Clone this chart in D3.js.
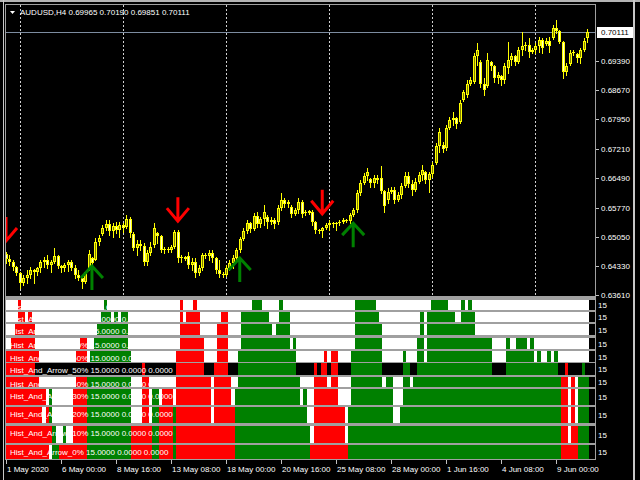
<!DOCTYPE html>
<html><head><meta charset="utf-8">
<script src="https://cdn.jsdelivr.net/npm/d3@7"></script>
<style>
html,body{margin:0;padding:0;background:#000;}
svg{display:block;}
text{font-family:"Liberation Sans",Arial,sans-serif;font-size:8px;}
</style>
</head><body>
<svg id="c" width="640" height="480"></svg>
<script>
// ---------------- DATA ----------------
const symbolTitle = "AUDUSD,H4  0.69965 0.70190 0.69851 0.70111";
const openP = [
.6462,.6450,.6443,.6430,.6415,.6391,.6403,.6410,.6423,.6418,
.6428,.6443,.6447,.6435,.6443,.6457,.6433,.6428,.6435,.6443,
.6428,.6410,.6403,.6393,.6423,.6452,.6447,.6492,.6512,.6527,
.6536,.6519,.6531,.6522,.6534,.6529,.6549,.6512,.6477,.6487,
.6482,.6443,.6465,.6485,.6514,.6507,.6472,.6475,.6472,.6480,
.6517,.6452,.6455,.6457,.6435,.6443,.6415,.6428,.6460,.6457,
.6465,.6452,.6423,.6413,.6410,.6428,.6440,.6452,.6472,.6499,
.6519,.6539,.6524,.6556,.6536,.6549,.6554,.6541,.6546,.6541,
.6576,.6596,.6586,.6578,.6561,.6571,.6591,.6566,.6564,.6566,
.6541,.6522,.6519,.6527,.6534,.6539,.6536,.6539,.6541,.6546,
.6544,.6559,.6571,.6613,.6638,.6655,.6648,.6638,.6650,.6650,
.6618,.6596,.6615,.6620,.6596,.6608,.6630,.6655,.6635,.6620,
.6640,.6657,.6665,.6645,.6660,.6687,.6729,.6732,.6724,.6774,
.6793,.6798,.6788,.6843,.6855,.6882,.6887,.6951,.6937,.6882,
.6877,.6937,.6927,.6897,.6902,.6892,.6922,.6942,.6951,.6937,
.6966,.6976,.6979,.6961,.6966,.6976,.6991,.6981,.6989,.6996,
.7021,.7013,.6986,.6912,.6932,.6959,.6956,.6947,.6966,.69965];
const highP = [
.6467,.6460,.6447,.6433,.6418,.6410,.6423,.6430,.6425,.6430,
.6447,.6455,.6460,.6447,.6477,.6460,.6435,.6440,.6447,.6447,
.6435,.6423,.6405,.6418,.6472,.6455,.6502,.6509,.6534,.6546,
.6546,.6539,.6541,.6541,.6539,.6559,.6554,.6517,.6497,.6497,
.6489,.6472,.6492,.6539,.6517,.6509,.6480,.6480,.6485,.6522,
.6522,.6460,.6457,.6467,.6452,.6452,.6435,.6465,.6465,.6472,
.6472,.6455,.6447,.6418,.6435,.6447,.6460,.6477,.6504,.6527,
.6546,.6541,.6564,.6566,.6554,.6583,.6559,.6554,.6551,.6583,
.6613,.6601,.6596,.6583,.6576,.6601,.6596,.6571,.6571,.6571,
.6544,.6524,.6529,.6539,.6546,.6541,.6541,.6546,.6551,.6549,
.6564,.6576,.6620,.6645,.6662,.6675,.6650,.6657,.6657,.6680,
.6620,.6625,.6628,.6628,.6615,.6638,.6665,.6665,.6645,.6650,
.6665,.6682,.6667,.6665,.6690,.6737,.6774,.6739,.6781,.6801,
.6813,.6801,.6843,.6868,.6892,.6900,.6959,.6984,.6942,.6897,
.6959,.6939,.6929,.6912,.6905,.6934,.6986,.6959,.6954,.6974,
.7011,.6986,.6996,.6971,.6984,.6998,.6996,.6996,.6998,.7028,
.7040,.7016,.6989,.6934,.6966,.6966,.6959,.6971,.6996,.70190];
const lowP = [
.6440,.6435,.6423,.6410,.6378,.6386,.6391,.6403,.6391,.6410,
.6418,.6430,.6428,.6418,.6440,.6428,.6418,.6420,.6420,.6423,
.6403,.6398,.6378,.6391,.6423,.6430,.6447,.6485,.6509,.6522,
.6509,.6504,.6514,.6504,.6517,.6527,.6504,.6472,.6460,.6472,
.6435,.6435,.6460,.6480,.6489,.6467,.6465,.6467,.6467,.6477,
.6443,.6443,.6447,.6428,.6423,.6405,.6410,.6423,.6452,.6447,
.6443,.6415,.6405,.6405,.6408,.6423,.6428,.6443,.6467,.6497,
.6514,.6517,.6522,.6529,.6529,.6534,.6527,.6536,.6527,.6536,
.6571,.6578,.6578,.6554,.6559,.6564,.6554,.6559,.6561,.6534,
.6514,.6514,.6504,.6524,.6522,.6529,.6522,.6534,.6539,.6541,
.6539,.6556,.6566,.6608,.6635,.6645,.6628,.6628,.6638,.6613,
.6566,.6588,.6613,.6588,.6593,.6601,.6628,.6628,.6608,.6618,
.6638,.6645,.6638,.6615,.6652,.6685,.6714,.6714,.6719,.6771,
.6781,.6774,.6786,.6840,.6850,.6880,.6885,.6929,.6875,.6855,
.6875,.6917,.6887,.6885,.6880,.6885,.6909,.6929,.6929,.6934,
.6954,.6966,.6949,.6959,.6959,.6961,.6959,.6979,.6961,.6993,
.7008,.6984,.6897,.6905,.6929,.6954,.6937,.6934,.6964,.69851];
const closeP = [
.6450,.6443,.6430,.6415,.6391,.6403,.6410,.6423,.6418,.6428,
.6443,.6447,.6435,.6443,.6457,.6433,.6428,.6435,.6443,.6428,
.6410,.6403,.6393,.6418,.6462,.6440,.6492,.6502,.6527,.6536,
.6519,.6531,.6522,.6534,.6527,.6549,.6514,.6477,.6487,.6482,
.6443,.6465,.6480,.6527,.6507,.6472,.6475,.6472,.6480,.6517,
.6452,.6455,.6450,.6435,.6443,.6415,.6428,.6460,.6457,.6465,
.6452,.6423,.6413,.6410,.6428,.6440,.6452,.6472,.6499,.6519,
.6539,.6524,.6556,.6536,.6549,.6566,.6541,.6546,.6536,.6576,
.6596,.6586,.6591,.6561,.6571,.6591,.6561,.6564,.6569,.6541,
.6522,.6519,.6527,.6534,.6539,.6536,.6539,.6541,.6546,.6544,
.6559,.6571,.6613,.6638,.6655,.6665,.6638,.6650,.6645,.6618,
.6581,.6615,.6620,.6596,.6608,.6630,.6655,.6635,.6620,.6640,
.6657,.6670,.6645,.6660,.6682,.6729,.6764,.6722,.6774,.6793,
.6798,.6784,.6835,.6863,.6882,.6892,.6951,.6966,.6882,.6868,
.6942,.6927,.6897,.6905,.6892,.6927,.6942,.6951,.6937,.6966,
.6976,.6979,.6961,.6966,.6976,.6991,.6971,.6989,.6976,.7021,
.7013,.6986,.6912,.6927,.6959,.6961,.6947,.6966,.6989,.70111];

const priceTicks = [0.6939, 0.6867, 0.6795, 0.6721, 0.6649, 0.6577, 0.6505, 0.6433, 0.6361];
const priceTickLabels = ["0.69390","0.68670","0.67950","0.67210","0.66490","0.65770","0.65050","0.64330","0.63610"];
const lastPrice = 0.70111;
const lastPriceLabel = "0.70111";

const timeBars = [0,16,32,48,64,80,96,112,128,144,160];
const timeLabels = ["1 May 2020","6 May 00:00","8 May 16:00","13 May 08:00","18 May 00:00","20 May 16:00",
                    "25 May 08:00","28 May 00:00","1 Jun 16:00","4 Jun 08:00","9 Jun 00:00"];
const gridBars = [4,34,64,94,124,154];

const downArrowBars = [0, 50, 92];
const downArrowPrices = [0.6492, 0.6541, 0.6559];
const upArrowBars = [25, 68, 101];
const upArrowPrices = [0.6435, 0.6455, 0.6541];

const panelPercents = ["100","90","80","70","60","50","40","30","20","10","0"];
const panelParams = "15.0000 0.0000 0.0000";
const panelLevelLabel = "15";
const panelDefault = ["w","w","w","w","w","k","w","w","w","w","w"];

const hist100 = [[4,4,"r"],[29,29,"g"],[51,51,"r"],[55,55,"r"],[72,74,"g"],[80,80,"g"],[102,107,"g"],[124,128,"g"],[133,133,"g"],[135,135,"g"]];
const hist90 = [[4,5,"r"],[7,7,"r"],[28,30,"g"],[32,32,"g"],[34,35,"g"],[51,51,"r"],[53,56,"r"],[63,64,"r"],[69,76,"g"],[80,82,"g"],[102,108,"g"],[121,121,"g"],[123,130,"g"],[133,136,"g"]];
const hist80 = [[3,8,"r"],[27,35,"g"],[51,56,"r"],[62,64,"r"],[69,77,"g"],[79,82,"g"],[102,109,"g"],[121,121,"g"],[123,136,"g"]];
const hist70 = [[2,8,"r"],[22,23,"r"],[26,35,"g"],[51,57,"r"],[62,64,"r"],[69,82,"g"],[84,84,"g"],[102,109,"g"],[120,121,"g"],[123,141,"g"],[146,146,"g"],[149,151,"g"],[153,153,"g"]];
const hist60 = [[0,9,"r"],[21,23,"r"],[25,36,"g"],[50,57,"r"],[62,64,"r"],[68,84,"g"],[93,93,"r"],[95,96,"r"],[101,109,"g"],[116,116,"g"],[120,121,"g"],[123,141,"g"],[146,153,"g"],[155,155,"g"],[158,158,"g"],[160,160,"g"]];
const hist50 = [[0,8,"r"],[40,40,"r"],[50,57,"r"],[61,64,"r"],[68,84,"g"],[90,90,"r"],[92,93,"r"],[95,96,"r"],[101,109,"g"],[116,117,"g"],[120,141,"g"],[146,160,"g"],[163,163,"r"],[168,168,"g"]];
const hist40 = [[0,9,"r"],[21,23,"r"],[24,36,"g"],[40,41,"r"],[50,59,"r"],[61,65,"r"],[68,85,"g"],[90,93,"r"],[95,96,"r"],[101,109,"g"],[111,112,"g"],[116,117,"g"],[119,161,"g"],[162,163,"r"],[165,165,"r"],[167,169,"g"]];
const hist30 = [[0,11,"r"],[13,13,"g"],[20,23,"r"],[24,36,"g"],[40,41,"r"],[43,44,"g"],[46,48,"r"],[50,59,"r"],[61,65,"r"],[67,85,"g"],[87,87,"g"],[90,96,"r"],[101,112,"g"],[116,161,"g"],[162,163,"r"],[165,165,"r"],[167,169,"g"]];
const hist20 = [[0,10,"r"],[12,12,"r"],[13,13,"g"],[20,23,"r"],[24,36,"g"],[40,41,"r"],[43,44,"g"],[45,48,"r"],[49,49,"g"],[50,59,"r"],[61,66,"r"],[67,87,"g"],[90,98,"r"],[100,112,"g"],[115,161,"g"],[162,163,"r"],[165,165,"r"],[167,169,"g"]];
const hist10 = [[0,13,"r"],[14,14,"g"],[17,17,"g"],[20,23,"r"],[24,36,"g"],[37,42,"r"],[43,44,"g"],[45,48,"r"],[49,49,"g"],[50,66,"r"],[67,88,"g"],[90,98,"r"],[100,161,"g"],[162,163,"r"],[165,166,"r"],[167,169,"g"]];
const hist0 = [[0,12,"r"],[14,15,"g"],[16,23,"r"],[24,36,"g"],[37,42,"r"],[43,44,"g"],[45,48,"r"],[49,49,"g"],[50,66,"r"],[67,88,"g"],[89,99,"r"],[100,161,"g"],[162,166,"r"],[167,169,"g"]];
const histRows = [hist100,hist90,hist80,hist70,hist60,hist50,hist40,hist30,hist20,hist10,hist0];

// ---------------- LAYOUT / STYLE ----------------
const W = 640, H = 480;
const plot = {x0: 6, x1: 595, y0: 5, y1: 296};
const panelTop    = [300,312,324,338,351,363,377,389,407,426,445];
const panelBottom = [310,322,335,349,362,375,387,405,423,443,459];
const COLORS = {r:"#ff0000", g:"#008000", w:"#ffffff", k:"#000000"};
const YEL = "#ffff00", BULL = "#808000", BEAR = "#ffffd0";

const barX = d3.scaleLinear().domain([0, 16]).range([6, 61]);
const priceY = d3.scaleLinear().domain([0.6361, 0.6939]).range([295, 61]);
const px = v => Math.round(v);

const svg = d3.select("#c");
svg.append("rect").attr("width", W).attr("height", H).attr("fill", "#000");
const defs = svg.append("defs");
defs.append("clipPath").attr("id", "mainClip").append("rect")
  .attr("x", plot.x0).attr("y", plot.y0).attr("width", plot.x1 - plot.x0).attr("height", plot.y1 - plot.y0);

// window frame
svg.append("rect").attr("x",0).attr("y",0).attr("width",W).attr("height",2).attr("fill","#b4b4b4");
svg.append("rect").attr("x",3).attr("y",0).attr("width",1).attr("height",H).attr("fill","#c8c8c8");
svg.append("rect").attr("x",633).attr("y",0).attr("width",2).attr("height",H).attr("fill","#c8c8c8");

// ---------- main chart ----------
const main = svg.append("g").attr("clip-path", "url(#mainClip)");
main.selectAll("line.grid").data(gridBars).join("line")
  .attr("class","grid")
  .attr("x1", d => px(barX(d)) + 0.5).attr("x2", d => px(barX(d)) + 0.5)
  .attr("y1", plot.y0).attr("y2", plot.y1)
  .attr("stroke", "#d0d0d0").attr("stroke-width", 1).attr("stroke-dasharray", "2,2");

main.append("line")
  .attr("x1", plot.x0).attr("x2", plot.x1)
  .attr("y1", px(priceY(lastPrice)) + 0.5).attr("y2", px(priceY(lastPrice)) + 0.5)
  .attr("stroke", "#7d8ca0").attr("stroke-width", 1);

const bars = openP.map((o, i) => ({i, o, h: highP[i], l: lowP[i], c: closeP[i]}));
const cg = main.append("g");
cg.selectAll("line.wick").data(bars).join("line")
  .attr("class","wick")
  .attr("x1", d => px(barX(d.i)) + 0.5).attr("x2", d => px(barX(d.i)) + 0.5)
  .attr("y1", d => px(priceY(d.h))).attr("y2", d => px(priceY(d.l)) + 1)
  .attr("stroke", YEL).attr("stroke-width", 1);
const bodyTop = d => px(priceY(Math.max(d.o, d.c)));
const bodyH = d => Math.max(1, px(priceY(Math.min(d.o, d.c))) - bodyTop(d));
cg.selectAll("rect.body").data(bars).join("rect")
  .attr("class","body")
  .attr("x", d => px(barX(d.i)) - 1).attr("width", 3)
  .attr("y", bodyTop).attr("height", bodyH)
  .attr("fill", YEL);
cg.selectAll("rect.inner").data(bars.filter(d => bodyH(d) > 2)).join("rect")
  .attr("class","inner")
  .attr("x", d => px(barX(d.i))).attr("width", 1)
  .attr("y", d => bodyTop(d) + 1).attr("height", d => bodyH(d) - 2)
  .attr("fill", d => d.c >= d.o ? BULL : BEAR);

// arrows
const downPath = (b, p) => { const x = barX(b), y = priceY(p);
  return `M${x},${y-25}L${x},${y-1}M${x-11},${y-14}L${x},${y-1}L${x+11},${y-14}`; };
const upPath = (b, p) => { const x = barX(b), y = priceY(p);
  return `M${x},${y+25}L${x},${y+1}M${x-11},${y+13}L${x},${y+1}L${x+11},${y+13}`; };
main.selectAll("path.dn").data(downArrowBars).join("path")
  .attr("class","dn").attr("d", (b, k) => downPath(b, downArrowPrices[k]))
  .attr("fill","none").attr("stroke","#ff0000").attr("stroke-width",3);
main.selectAll("path.up").data(upArrowBars).join("path")
  .attr("class","up").attr("d", (b, k) => upPath(b, upArrowPrices[k]))
  .attr("fill","none").attr("stroke","#008000").attr("stroke-width",3);

// header text
svg.append("path").attr("d","M10,11L15,11L12.5,14Z").attr("fill","#ffffff");
svg.append("text").attr("x", 20).attr("y", 15).attr("fill", "#ffffff").text(symbolTitle);

// frame of main chart
svg.append("rect").attr("x", plot.x0 - 0.5).attr("y", plot.y0 - 0.5)
  .attr("width", plot.x1 - plot.x0 + 1).attr("height", plot.y1 - plot.y0 + 1)
  .attr("fill","none").attr("stroke","#a0a0a0");

// price axis
const ax = svg.append("g");
ax.selectAll("line.pt").data(priceTicks).join("line").attr("class","pt")
  .attr("x1", 596).attr("x2", 599)
  .attr("y1", d => px(priceY(d)) + 0.5).attr("y2", d => px(priceY(d)) + 0.5)
  .attr("stroke", "#c0c0c0");
ax.selectAll("text.pl").data(priceTicks).join("text").attr("class","pl")
  .attr("x", 601).attr("y", d => px(priceY(d)) + 3)
  .attr("fill", "#ffffff").text((d, k) => priceTickLabels[k]);
ax.append("rect").attr("x", 597).attr("y", px(priceY(lastPrice)) - 5).attr("width", 36).attr("height", 11).attr("fill", "#ffffff");
ax.append("text").attr("x", 601).attr("y", px(priceY(lastPrice)) + 3).attr("fill", "#000").text(lastPriceLabel);

// ---------- indicator panels ----------
svg.append("rect").attr("x", 5).attr("y", 297).attr("width", 591).attr("height", 163).attr("fill", "#a0a0a0");
histRows.forEach((segs, r) => {
  const top = panelTop[r], bot = panelBottom[r];
  defs.append("clipPath").attr("id", "pc" + r).append("rect")
    .attr("x", plot.x0).attr("y", top).attr("width", plot.x1 - plot.x0).attr("height", bot - top);
  const g = svg.append("g").attr("clip-path", `url(#pc${r})`);
  g.append("rect").attr("x", plot.x0).attr("y", top).attr("width", plot.x1 - plot.x0).attr("height", bot - top).attr("fill", "#000");
  const all = [[0, openP.length - 1, panelDefault[r]]].concat(segs);
  g.selectAll("rect.h").data(all).join("rect").attr("class","h")
    .attr("x", d => px(barX(d[0] - 0.5)))
    .attr("width", d => px(barX(d[1] + 0.5)) - px(barX(d[0] - 0.5)))
    .attr("y", top).attr("height", bot - top)
    .attr("fill", d => COLORS[d[2]]);
  g.append("text").attr("x", 10).attr("y", top + 10).attr("fill", "#ffffff")
    .text(`Hist_And_Arrow_${panelPercents[r]}% ${panelParams}`);
  svg.append("text").attr("x", 598).attr("y", (top + bot) / 2 + 3).attr("fill", "#ffffff").text(panelLevelLabel);
});

// ---------- time axis ----------
svg.selectAll("line.tt").data(timeBars).join("line").attr("class","tt")
  .attr("x1", d => px(barX(d)) + 0.5).attr("x2", d => px(barX(d)) + 0.5)
  .attr("y1", 460).attr("y2", 464).attr("stroke", "#c0c0c0");
svg.selectAll("text.tl").data(timeBars).join("text").attr("class","tl")
  .attr("x", d => px(barX(d)) + 1).attr("y", 472)
  .attr("fill", "#ffffff").text((d, k) => timeLabels[k]);
</script>
</body></html>
